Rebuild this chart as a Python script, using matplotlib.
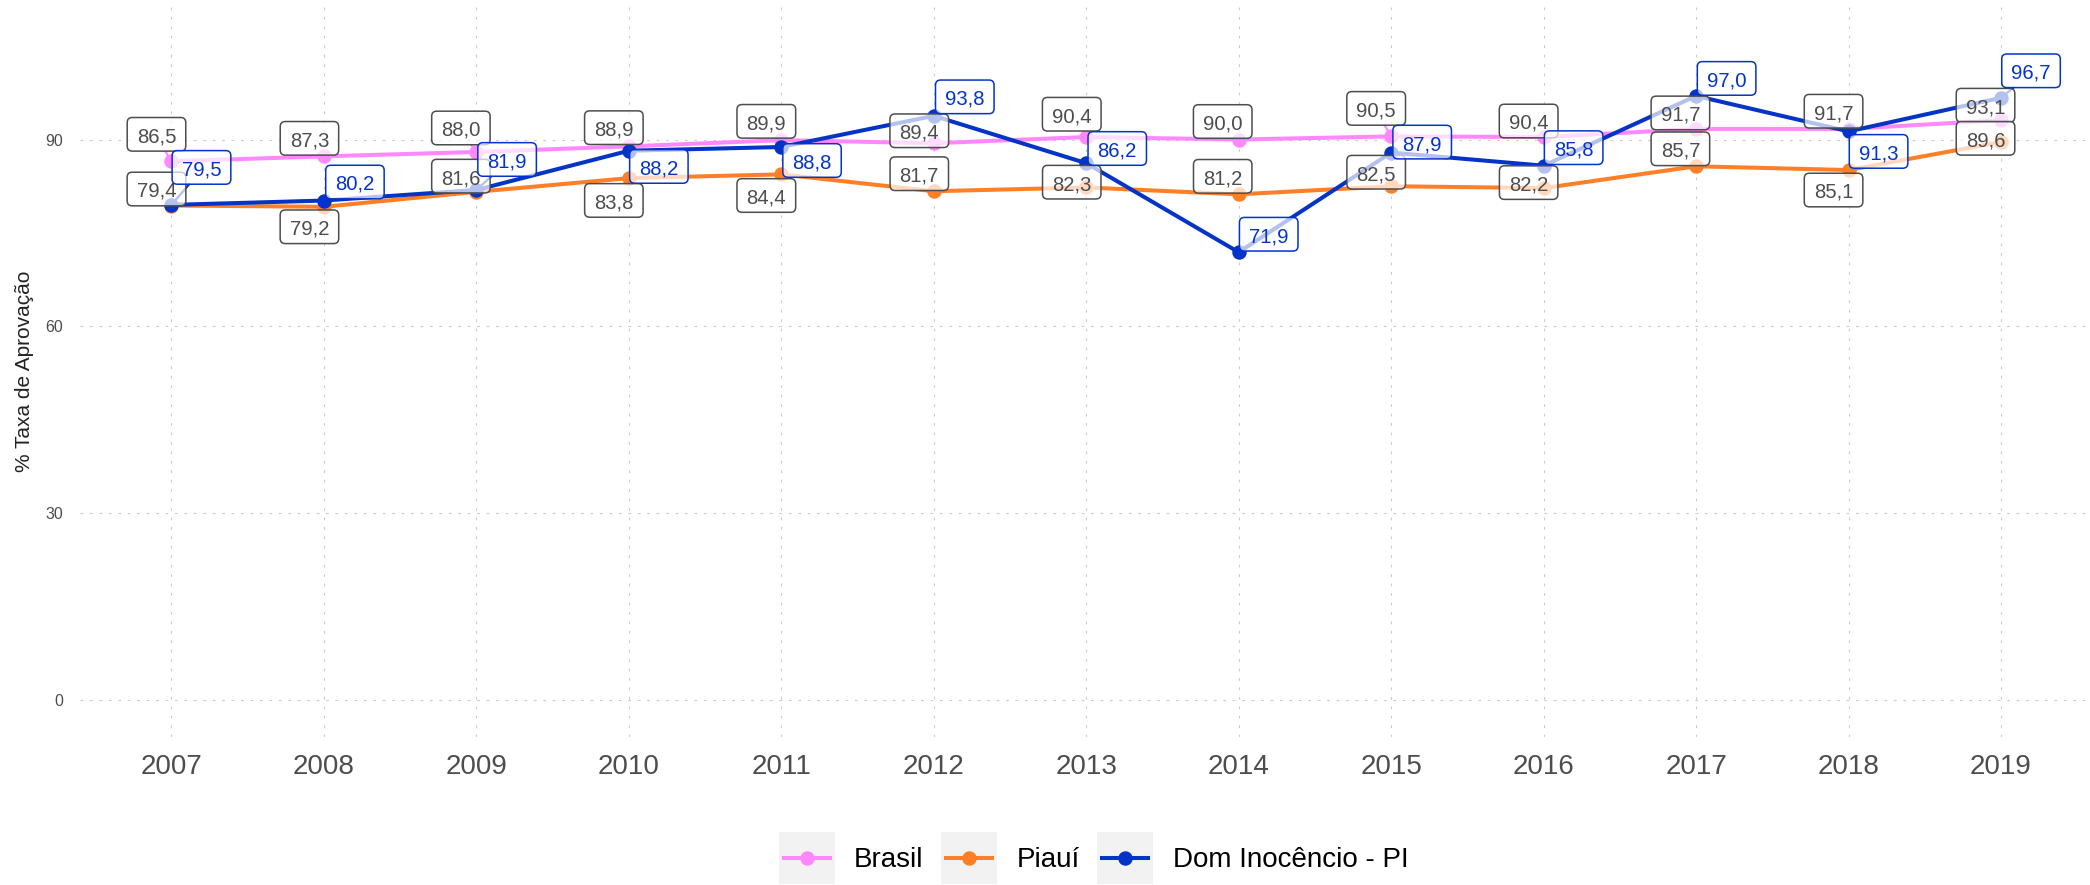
import matplotlib.pyplot as plt
import numpy as np
from matplotlib.path import Path
from matplotlib.patches import Rectangle
from matplotlib.lines import Line2D

plt.rcParams['font.family'] = ['Liberation Sans', 'DejaVu Sans']

anos = ['2007', '2008', '2009', '2010', '2011', '2012', '2013',
        '2014', '2015', '2016', '2017', '2018', '2019']
brasil = [86.5, 87.3, 88.0, 88.9, 89.9, 89.4, 90.4, 90.0, 90.5, 90.4, 91.7, 91.7, 93.1]
piaui = [79.4, 79.2, 81.6, 83.8, 84.4, 81.7, 82.3, 81.2, 82.5, 82.2, 85.7, 85.1, 89.6]
dom_inocencio = [79.5, 80.2, 81.9, 88.2, 88.8, 93.8, 86.2, 71.9, 87.9, 85.8, 97.0, 91.3, 96.7]

nomes = ['Brasil', 'Piauí', 'Dom Inocêncio - PI']
cores = ['#ff88ff', '#ff7f27', '#0433c8']
cor_rotulo = ['#4d4d4d', '#4d4d4d', '#0433c8']

# deslocamento dos rótulos (pixels, y para baixo)
desl_brasil = [(-15, -27), (-14.5, -18), (-15.5, -24), (-15, -18.7), (-15, -18.8), (-14.5, -12.5),
               (-14.5, -22.8), (-16, -18), (-15, -28), (-15, -16), (-15.7, -16), (-15, -17.7),
               (-15.5, -15)]
desl_piaui = [(-15, -16.5), (-14.5, 20), (-15.5, -15.7), (-15, 22.3), (-15, 21.1), (-14.5, -17.5),
              (-14.5, -5.3), (-16, -18), (-15, -14), (-15, -5.5), (-15.7, -17.5), (-15, 20),
              (-15.5, -3.7)]
desl_dom = [(30, -37.5), (31, -18.5), (30.7, -30.5), (30, 15.7), (30.7, 13.5), (31, -19),
            (31, -14.7), (30, -18), (31, -10.5), (30, -18), (30.5, -17.5), (30, 20), (30, -27)]

valores = [brasil, piaui, dom_inocencio]
deslocamentos = [desl_brasil, desl_piaui, desl_dom]

FONTE = 14.6
SOBE = 0.12  # desloca a caixa para cima, em unidades da fonte


def caixa(x0, y0, width, height, mutation_size):
    # retangulo arredondado com folga maior na horizontal
    px, py, r = 0.47 * mutation_size, 0.36 * mutation_size, 0.25 * mutation_size
    s = SOBE * mutation_size
    x0, y0 = x0 - px, y0 - py + s
    x1, y1 = x0 + width + 2 * px, y0 + height + 2 * py
    verts = [(x0 + r, y0), (x1 - r, y0), (x1, y0), (x1, y0 + r), (x1, y1 - r), (x1, y1),
             (x1 - r, y1), (x0 + r, y1), (x0, y1), (x0, y1 - r), (x0, y0 + r), (x0, y0),
             (x0 + r, y0), (x0 + r, y0)]
    codes = [Path.MOVETO, Path.LINETO, Path.CURVE3, Path.CURVE3, Path.LINETO, Path.CURVE3,
             Path.CURVE3, Path.LINETO, Path.CURVE3, Path.CURVE3, Path.LINETO, Path.CURVE3,
             Path.CURVE3, Path.CLOSEPOLY]
    return Path(verts, codes)


fig = plt.figure(figsize=(20.9, 8.85), dpi=100)
ax = fig.add_axes([80 / 2090, 148 / 885, 2012.5 / 2090, 732 / 885])

x = np.arange(len(anos))
for v, c, n in zip(valores, cores, nomes):
    ax.plot(x, v, color=c, lw=2.9, marker='o', ms=9.4, label=n, zorder=2)

px2pt = 72 / 100
ajuste = SOBE * FONTE / px2pt
for v, c, ct, desl in zip(valores, cores, cor_rotulo, deslocamentos):
    for xi, yi, (dx, dy) in zip(x, v, desl):
        off = (dx * px2pt, -(dy + ajuste) * px2pt)
        txt = f'{yi:.1f}'.replace('.', ',')
        # segmento ligando o rótulo ao ponto, so quando a caixa fica afastada
        folga = np.hypot(max(0, abs(dx) - 29), max(0, abs(dy) - 16.5))
        if folga > 7:
            ax.annotate(txt, (xi, yi), xytext=off, textcoords='offset points',
                        ha='center', va='center', fontsize=FONTE, color='none',
                        bbox=dict(boxstyle=caixa, fc='none', ec='none'),
                        arrowprops=dict(arrowstyle='-', color=c, lw=1.6,
                                        shrinkA=0, shrinkB=0),
                        zorder=3)
        ax.annotate(txt, (xi, yi), xytext=off, textcoords='offset points',
                    ha='center', va='center', fontsize=FONTE, color=ct,
                    bbox=dict(boxstyle=caixa, fc=(1, 1, 1, 0.7), ec=ct, lw=1.1),
                    zorder=4)

ax.set_xlim(-0.6, len(anos) - 0.4)
ax.set_ylim(-5.94, 111.6)
ax.set_xticks(x)
ax.set_xticklabels(anos)
ax.set_yticks([0, 30, 60, 90])
ax.tick_params(axis='x', length=0, labelsize=20, labelcolor='#4d4d4d', pad=12)
ax.tick_params(axis='y', length=0, labelsize=11.5, labelcolor='#4d4d4d', pad=12)
ax.grid(color='#cccccc', lw=0.8, linestyle=(0, (2.5, 6)))
ax.set_axisbelow(True)
for s in ax.spines.values():
    s.set_visible(False)

fig.text(25 / 2090, 1 - 371 / 885, '% Taxa de Aprovação', rotation=90,
         ha='center', va='center', fontsize=15, color='#222222')

# legenda na parte de baixo
chaves = [779, 941, 1097]
textos = [854, 1017, 1173]
for xk, xt, c, n in zip(chaves, textos, cores, nomes):
    fig.patches.append(Rectangle((xk / 2090, 1 - 884 / 885), 56 / 2090, 52 / 885,
                                 transform=fig.transFigure, fc='#f2f2f2', ec='none'))
    fig.lines.append(Line2D([(xk + 5) / 2090, (xk + 51) / 2090], [1 - 858 / 885] * 2,
                            transform=fig.transFigure, color=c, lw=2.9))
    fig.lines.append(Line2D([(xk + 28) / 2090], [1 - 858 / 885], transform=fig.transFigure,
                            color=c, marker='o', ms=9.4))
    fig.text(xt / 2090, 1 - 860 / 885, n, ha='left', va='center', fontsize=20)

plt.savefig('out.png', dpi=100)
